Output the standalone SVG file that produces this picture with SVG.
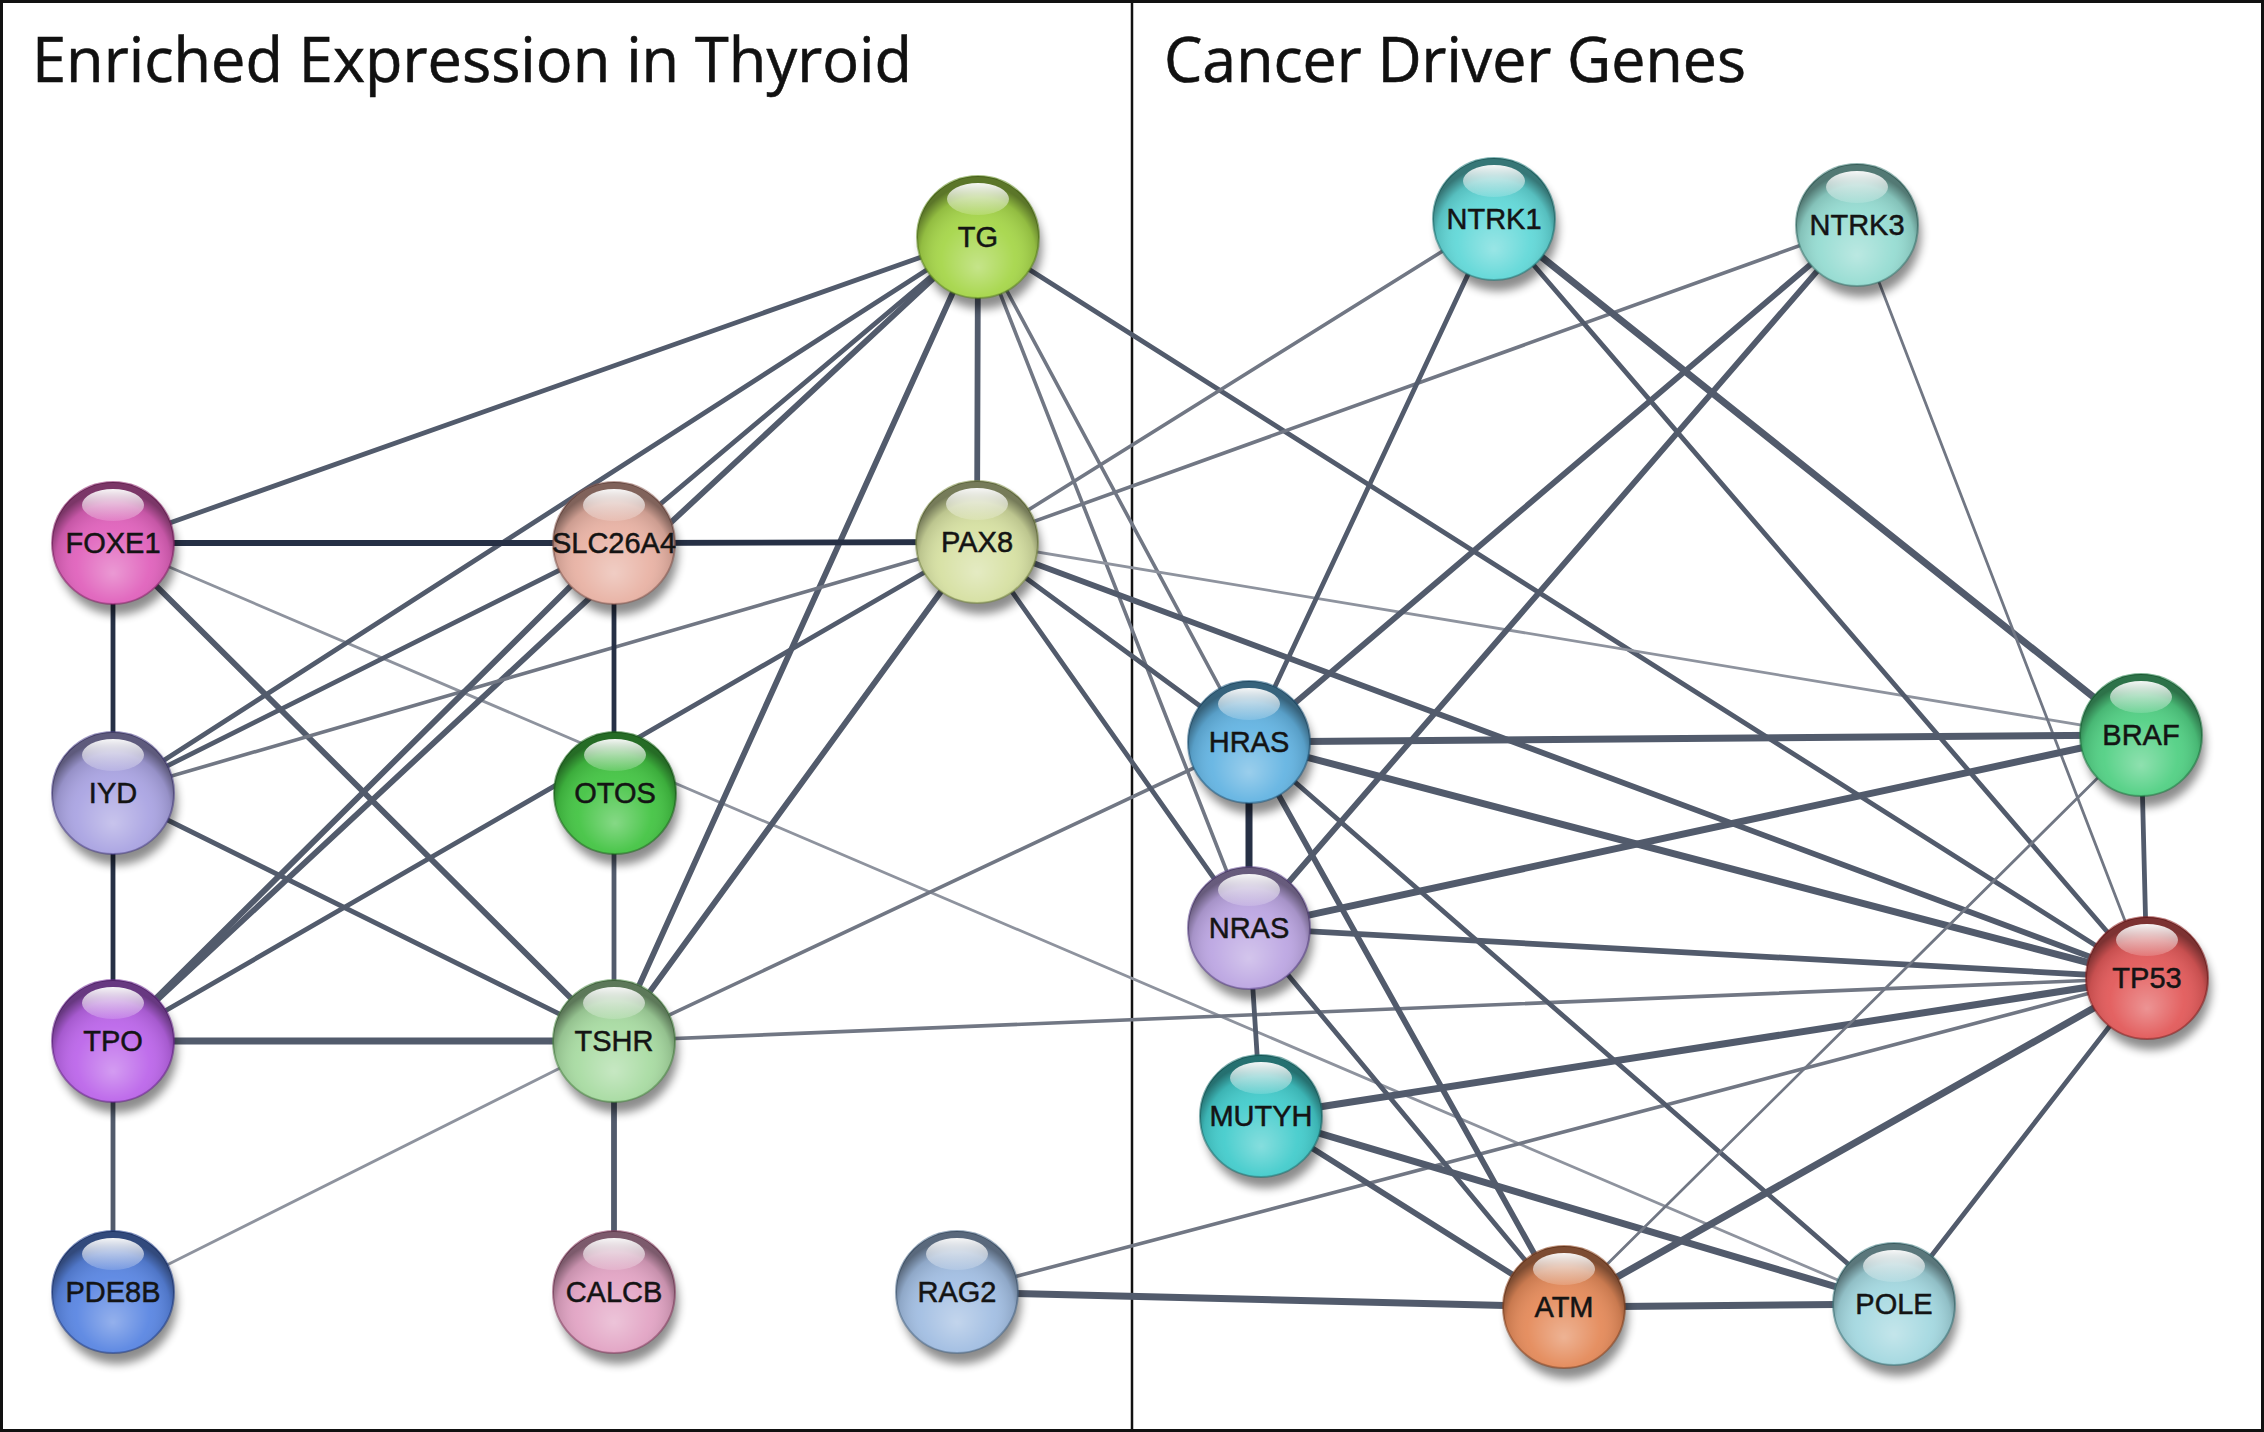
<svg xmlns="http://www.w3.org/2000/svg" width="2264" height="1432" viewBox="0 0 2264 1432">
<defs>
<radialGradient id="shade" cx="50%" cy="62%" r="55%" fx="50%" fy="75%">
<stop offset="0" stop-color="#ffffff" stop-opacity="0.35"/>
<stop offset="0.55" stop-color="#ffffff" stop-opacity="0.05"/>
<stop offset="0.85" stop-color="#000000" stop-opacity="0.12"/>
<stop offset="1" stop-color="#000000" stop-opacity="0.45"/>
</radialGradient>
<linearGradient id="hl" x1="0" y1="0" x2="0" y2="1">
<stop offset="0" stop-color="#ffffff" stop-opacity="0.95"/>
<stop offset="1" stop-color="#ffffff" stop-opacity="0.15"/>
</linearGradient>
<filter id="blur" x="-30%" y="-30%" width="160%" height="160%">
<feGaussianBlur stdDeviation="5"/>
</filter>
<g id="gloss">
<ellipse cx="4" cy="10" rx="60" ry="62" fill="#000" opacity="0.45" filter="url(#blur)"/>
</g>
</defs>
<style>
.frame{fill:none;stroke:#111;stroke-width:3}
.title{font-family:"Open Sans","Noto Sans",sans-serif;font-size:62px;fill:#111;stroke:#111;stroke-width:0.6}
.e{stroke-linecap:round;fill:none}
.dk{stroke:#263045}
.g{stroke:#525b6c}
.lt{stroke:#717784}
.fa{stroke:#8e939e}
.w2{stroke-width:2.8}
.w3{stroke-width:3.6}
.w4{stroke-width:4.8}
.w5{stroke-width:5.8}
.w6{stroke-width:7}
.ring{stroke-width:2;stroke-opacity:0.55}
.lbl{font-family:"Liberation Sans",Arial,sans-serif;font-size:29px;fill:#141414;stroke:#141414;stroke-width:0.5;text-anchor:middle;dominant-baseline:central}
</style>
<rect width="2264" height="1432" fill="#ffffff"/>
<rect class="frame" x="1.5" y="1.5" width="2261" height="1429"/>
<line x1="1132" y1="0" x2="1132" y2="1432" stroke="#111" stroke-width="2.5"/>
<text class="title" x="32" y="82" textLength="880" lengthAdjust="spacingAndGlyphs">Enriched Expression in Thyroid</text>
<text class="title" x="1164" y="82" textLength="582" lengthAdjust="spacingAndGlyphs">Cancer Driver Genes</text>

<g id="connectors">
<line class="e fa w2" x1="113" y1="543" x2="1894" y2="1304"/>
<line class="e lt w3" x1="614" y1="1041" x2="2147" y2="978"/>
<line class="e lt w3" x1="614" y1="1041" x2="1249" y2="742"/>
<line class="e fa w2" x1="614" y1="1041" x2="113" y2="1292"/>
<line class="e lt w3" x1="957" y1="1292" x2="2147" y2="978"/>
<line class="e g w6" x1="957" y1="1292" x2="1564" y2="1307"/>
<line class="e g w4" x1="978" y1="237" x2="113" y2="543"/>
<line class="e g w4" x1="978" y1="237" x2="113" y2="793"/>
<line class="e g w4" x1="978" y1="237" x2="614" y2="543"/>
<line class="e g w5" x1="978" y1="237" x2="113" y2="1041"/>
<line class="e g w5" x1="978" y1="237" x2="614" y2="1041"/>
<line class="e g w5" x1="978" y1="237" x2="977" y2="542"/>
<line class="e lt w3" x1="978" y1="237" x2="1249" y2="928"/>
<line class="e lt w3" x1="978" y1="237" x2="1249" y2="742"/>
<line class="e g w4" x1="978" y1="237" x2="2147" y2="978"/>
<line class="e dk w5" x1="113" y1="543" x2="614" y2="543"/>
<line class="e dk w5" x1="614" y1="543" x2="977" y2="542"/>
<line class="e dk w4" x1="113" y1="543" x2="113" y2="793"/>
<line class="e g w5" x1="113" y1="543" x2="614" y2="1041"/>
<line class="e dk w4" x1="113" y1="793" x2="113" y2="1041"/>
<line class="e g w4" x1="113" y1="793" x2="614" y2="543"/>
<line class="e lt w3" x1="113" y1="793" x2="977" y2="542"/>
<line class="e g w4" x1="113" y1="793" x2="614" y2="1041"/>
<line class="e g w5" x1="113" y1="1041" x2="614" y2="543"/>
<line class="e g w4" x1="113" y1="1041" x2="977" y2="542"/>
<line class="e g w6" x1="113" y1="1041" x2="614" y2="1041"/>
<line class="e g w4" x1="113" y1="1041" x2="113" y2="1292"/>
<line class="e dk w4" x1="614" y1="543" x2="614" y2="793"/>
<line class="e g w4" x1="614" y1="793" x2="614" y2="1041"/>
<line class="e g w5" x1="614" y1="1041" x2="977" y2="542"/>
<line class="e g w5" x1="614" y1="1041" x2="614" y2="1292"/>
<line class="e g w4" x1="977" y1="542" x2="1249" y2="928"/>
<line class="e g w4" x1="977" y1="542" x2="1249" y2="742"/>
<line class="e g w5" x1="977" y1="542" x2="2147" y2="978"/>
<line class="e fa w2" x1="977" y1="542" x2="2141" y2="735"/>
<line class="e lt w3" x1="977" y1="542" x2="1494" y2="219"/>
<line class="e lt w3" x1="977" y1="542" x2="1857" y2="225"/>
<line class="e g w4" x1="1494" y1="219" x2="1249" y2="742"/>
<line class="e g w6" x1="1494" y1="219" x2="2141" y2="735"/>
<line class="e g w4" x1="1494" y1="219" x2="2147" y2="978"/>
<line class="e g w5" x1="1857" y1="225" x2="1249" y2="742"/>
<line class="e g w5" x1="1857" y1="225" x2="1249" y2="928"/>
<line class="e lt w2" x1="1857" y1="225" x2="2147" y2="978"/>
<line class="e dk w6" x1="1249" y1="742" x2="1249" y2="928"/>
<line class="e g w6" x1="1249" y1="742" x2="2141" y2="735"/>
<line class="e g w6" x1="1249" y1="742" x2="2147" y2="978"/>
<line class="e g w5" x1="1249" y1="742" x2="1564" y2="1307"/>
<line class="e g w4" x1="1249" y1="742" x2="1894" y2="1304"/>
<line class="e g w6" x1="1249" y1="928" x2="2141" y2="735"/>
<line class="e g w5" x1="1249" y1="928" x2="2147" y2="978"/>
<line class="e g w4" x1="1249" y1="928" x2="1261" y2="1116"/>
<line class="e g w4" x1="1249" y1="928" x2="1564" y2="1307"/>
<line class="e g w6" x1="1261" y1="1116" x2="2147" y2="978"/>
<line class="e g w5" x1="1261" y1="1116" x2="1564" y2="1307"/>
<line class="e g w6" x1="1261" y1="1116" x2="1894" y2="1304"/>
<line class="e g w6" x1="1564" y1="1307" x2="1894" y2="1304"/>
<line class="e g w6" x1="1564" y1="1307" x2="2147" y2="978"/>
<line class="e lt w2" x1="1564" y1="1307" x2="2141" y2="735"/>
<line class="e g w4" x1="1894" y1="1304" x2="2147" y2="978"/>
<line class="e g w4" x1="2141" y1="735" x2="2147" y2="978"/>
</g>

<g id="node-TG" transform="translate(978,237)"><use href="#gloss"/><circle r="61" fill="#a6d64a" stroke="#5f8a1c" class="ring"/><circle r="61" fill="url(#shade)"/><ellipse cy="-38" rx="31" ry="16" fill="url(#hl)"/><text class="lbl">TG</text></g>
<g id="node-FOXE1" transform="translate(113,543)"><use href="#gloss"/><circle r="61" fill="#e062bc" stroke="#8a1f6a" class="ring"/><circle r="61" fill="url(#shade)"/><ellipse cy="-38" rx="31" ry="16" fill="url(#hl)"/><text class="lbl">FOXE1</text></g>
<g id="node-SLC26A4" transform="translate(614,543)"><use href="#gloss"/><circle r="61" fill="#e8b2a4" stroke="#8a5a50" class="ring"/><circle r="61" fill="url(#shade)"/><ellipse cy="-38" rx="31" ry="16" fill="url(#hl)"/><text class="lbl">SLC26A4</text></g>
<g id="node-PAX8" transform="translate(977,542)"><use href="#gloss"/><circle r="61" fill="#d6e0a2" stroke="#7a8a40" class="ring"/><circle r="61" fill="url(#shade)"/><ellipse cy="-38" rx="31" ry="16" fill="url(#hl)"/><text class="lbl">PAX8</text></g>
<g id="node-IYD" transform="translate(113,793)"><use href="#gloss"/><circle r="61" fill="#aaa4e2" stroke="#4a3f8a" class="ring"/><circle r="61" fill="url(#shade)"/><ellipse cy="-38" rx="31" ry="16" fill="url(#hl)"/><text class="lbl">IYD</text></g>
<g id="node-OTOS" transform="translate(615,793)"><use href="#gloss"/><circle r="61" fill="#44c444" stroke="#1a6a1a" class="ring"/><circle r="61" fill="url(#shade)"/><ellipse cy="-38" rx="31" ry="16" fill="url(#hl)"/><text class="lbl">OTOS</text></g>
<g id="node-TPO" transform="translate(113,1041)"><use href="#gloss"/><circle r="61" fill="#bc66ea" stroke="#6a2090" class="ring"/><circle r="61" fill="url(#shade)"/><ellipse cy="-38" rx="31" ry="16" fill="url(#hl)"/><text class="lbl">TPO</text></g>
<g id="node-TSHR" transform="translate(614,1041)"><use href="#gloss"/><circle r="61" fill="#a8dba2" stroke="#4a8a44" class="ring"/><circle r="61" fill="url(#shade)"/><ellipse cy="-38" rx="31" ry="16" fill="url(#hl)"/><text class="lbl">TSHR</text></g>
<g id="node-PDE8B" transform="translate(113,1292)"><use href="#gloss"/><circle r="61" fill="#5a86e2" stroke="#1c3a8a" class="ring"/><circle r="61" fill="url(#shade)"/><ellipse cy="-38" rx="31" ry="16" fill="url(#hl)"/><text class="lbl">PDE8B</text></g>
<g id="node-CALCB" transform="translate(614,1292)"><use href="#gloss"/><circle r="61" fill="#e2a4c4" stroke="#8a3a60" class="ring"/><circle r="61" fill="url(#shade)"/><ellipse cy="-38" rx="31" ry="16" fill="url(#hl)"/><text class="lbl">CALCB</text></g>
<g id="node-RAG2" transform="translate(957,1292)"><use href="#gloss"/><circle r="61" fill="#a2bee2" stroke="#4a6a8a" class="ring"/><circle r="61" fill="url(#shade)"/><ellipse cy="-38" rx="31" ry="16" fill="url(#hl)"/><text class="lbl">RAG2</text></g>
<g id="node-NTRK1" transform="translate(1494,219)"><use href="#gloss"/><circle r="61" fill="#62d8d8" stroke="#1f7a7a" class="ring"/><circle r="61" fill="url(#shade)"/><ellipse cy="-38" rx="31" ry="16" fill="url(#hl)"/><text class="lbl">NTRK1</text></g>
<g id="node-NTRK3" transform="translate(1857,225)"><use href="#gloss"/><circle r="61" fill="#96dcd2" stroke="#3a7a72" class="ring"/><circle r="61" fill="url(#shade)"/><ellipse cy="-38" rx="31" ry="16" fill="url(#hl)"/><text class="lbl">NTRK3</text></g>
<g id="node-HRAS" transform="translate(1249,742)"><use href="#gloss"/><circle r="61" fill="#64b4e2" stroke="#1f5a80" class="ring"/><circle r="61" fill="url(#shade)"/><ellipse cy="-38" rx="31" ry="16" fill="url(#hl)"/><text class="lbl">HRAS</text></g>
<g id="node-BRAF" transform="translate(2141,735)"><use href="#gloss"/><circle r="61" fill="#52d084" stroke="#1a7a40" class="ring"/><circle r="61" fill="url(#shade)"/><ellipse cy="-38" rx="31" ry="16" fill="url(#hl)"/><text class="lbl">BRAF</text></g>
<g id="node-NRAS" transform="translate(1249,928)"><use href="#gloss"/><circle r="61" fill="#bca6e2" stroke="#5a3f8a" class="ring"/><circle r="61" fill="url(#shade)"/><ellipse cy="-38" rx="31" ry="16" fill="url(#hl)"/><text class="lbl">NRAS</text></g>
<g id="node-TP53" transform="translate(2147,978)"><use href="#gloss"/><circle r="61" fill="#e25a5a" stroke="#8a1a1a" class="ring"/><circle r="61" fill="url(#shade)"/><ellipse cy="-38" rx="31" ry="16" fill="url(#hl)"/><text class="lbl">TP53</text></g>
<g id="node-MUTYH" transform="translate(1261,1116)"><use href="#gloss"/><circle r="61" fill="#44cccc" stroke="#1a7070" class="ring"/><circle r="61" fill="url(#shade)"/><ellipse cy="-38" rx="31" ry="16" fill="url(#hl)"/><text class="lbl">MUTYH</text></g>
<g id="node-ATM" transform="translate(1564,1307)"><use href="#gloss"/><circle r="61" fill="#e48a5a" stroke="#8a401a" class="ring"/><circle r="61" fill="url(#shade)"/><ellipse cy="-38" rx="31" ry="16" fill="url(#hl)"/><text class="lbl">ATM</text></g>
<g id="node-POLE" transform="translate(1894,1304)"><use href="#gloss"/><circle r="61" fill="#a4d8e0" stroke="#3a7a80" class="ring"/><circle r="61" fill="url(#shade)"/><ellipse cy="-38" rx="31" ry="16" fill="url(#hl)"/><text class="lbl">POLE</text></g>
</svg>
